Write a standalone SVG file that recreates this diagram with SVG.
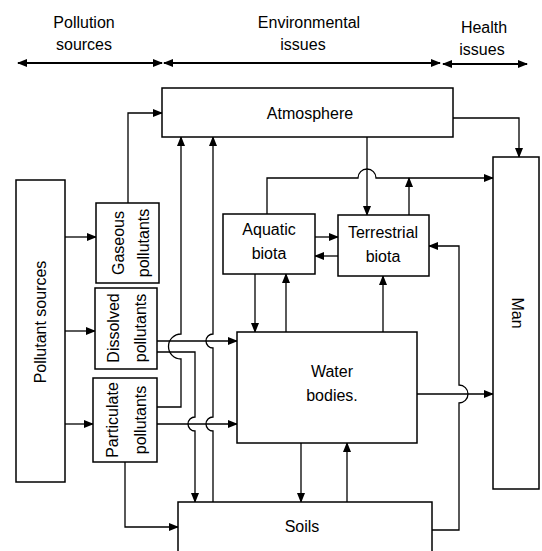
<svg xmlns="http://www.w3.org/2000/svg" width="542" height="551" viewBox="0 0 542 551">
<style>
.box{fill:#fff;stroke:#000;stroke-width:1.5}
.c{fill:none;stroke:#000;stroke-width:1.3}
.t{font-family:"Liberation Sans",Arial,sans-serif;font-size:16px;fill:#000;text-anchor:middle}
.h{stroke-width:1.8}
</style>
<defs>
<marker id="a" markerUnits="userSpaceOnUse" markerWidth="10" markerHeight="8" refX="9" refY="4" orient="auto-start-reverse">
<path d="M0,0 L10,4 L0,8 z" fill="#000"/>
</marker>
</defs>
<rect width="542" height="551" fill="#fff"/>
<g id="header">
<text class="t" x="84" y="28">Pollution</text>
<text class="t" x="84" y="50">sources</text>
<text class="t" x="309" y="28">Environmental</text>
<text class="t" x="303" y="50">issues</text>
<text class="t" x="484" y="33">Health</text>
<text class="t" x="482" y="55">issues</text>
<path class="c h" d="M18,63 H162" marker-start="url(#a)" marker-end="url(#a)"/>
<path class="c h" d="M164,63 H440" marker-start="url(#a)" marker-end="url(#a)"/>
<path class="c h" d="M443,64 H527" marker-start="url(#a)" marker-end="url(#a)"/>
</g>
<g id="connectors">
<path class="c" d="M65,237 H96" marker-end="url(#a)"/>
<path class="c" d="M65,331 H95" marker-end="url(#a)"/>
<path class="c" d="M65,424 H93" marker-end="url(#a)"/>
<path class="c" d="M128,203 V113 H162" marker-end="url(#a)"/>
<path class="c" d="M157,341 H237" marker-end="url(#a)"/>
<path class="c" d="M157,352 H195 V417 A7,7 0 0 0 195,431 V502" marker-end="url(#a)"/>
<path class="c" d="M157,407 H181 V359 A12.5,12.5 0 0 1 181,334 V137" marker-end="url(#a)"/>
<path class="c" d="M213,502 V431 A7,7 0 0 1 213,417 V348 A7,7 0 0 1 213,334 V137" marker-end="url(#a)"/>
<path class="c" d="M157,424 H237" marker-end="url(#a)"/>
<path class="c" d="M125,462 V527 H178" marker-end="url(#a)"/>
<path class="c" d="M453,118 H519 V157" marker-end="url(#a)"/>
<path class="c" d="M367,137 V215" marker-end="url(#a)"/>
<path class="c" d="M267,214 V178 H358 A9,9 0 0 1 376,178 H493" marker-end="url(#a)"/>
<path class="c" d="M409,215 V178" marker-end="url(#a)"/>
<path class="c" d="M315,237 H338" marker-end="url(#a)"/>
<path class="c" d="M338,256 H315" marker-end="url(#a)"/>
<path class="c" d="M255,274 V332" marker-end="url(#a)"/>
<path class="c" d="M286,332 V274" marker-end="url(#a)"/>
<path class="c" d="M383,332 V276" marker-end="url(#a)"/>
<path class="c" d="M301,443 V502" marker-end="url(#a)"/>
<path class="c" d="M347,502 V443" marker-end="url(#a)"/>
<path class="c" d="M417,394 H493" marker-end="url(#a)"/>
<path class="c" d="M432,530 H459 V403 A9,9 0 0 0 459,385 V246 H429" marker-end="url(#a)"/>
</g>
<g id="atmosphere">
<rect class="box" x="162" y="88" width="291" height="49"/>
<text class="t" x="310" y="119">Atmosphere</text>
</g>
<g id="man">
<rect class="box" x="493" y="157" width="46" height="332"/>
<text class="t" transform="translate(511.5,313) rotate(90)">Man</text>
</g>
<g id="aquatic-biota">
<rect class="box" x="223" y="214" width="92" height="60"/>
<text class="t" x="269" y="235">Aquatic</text>
<text class="t" x="269" y="259">biota</text>
</g>
<g id="terrestrial-biota">
<rect class="box" x="338" y="215" width="91" height="61"/>
<text class="t" x="383" y="238">Terrestrial</text>
<text class="t" x="383" y="262">biota</text>
</g>
<g id="water-bodies">
<rect class="box" x="237" y="332" width="180" height="111"/>
<text class="t" x="332" y="377">Water</text>
<text class="t" x="332" y="401">bodies.</text>
</g>
<g id="soils">
<rect class="box" x="178" y="502" width="254" height="60"/>
<text class="t" x="302" y="532">Soils</text>
</g>
<g id="pollutant-sources">
<rect class="box" x="16" y="180" width="49" height="302"/>
<text class="t" transform="translate(45.5,322) rotate(-90)">Pollutant sources</text>
</g>
<g id="gaseous-pollutants">
<rect class="box" x="96" y="203" width="63" height="80"/>
<text class="t" transform="translate(123.5,243) rotate(-90)">Gaseous</text>
<text class="t" transform="translate(148.5,243) rotate(-90)">pollutants</text>
</g>
<g id="dissolved-pollutants">
<rect class="box" x="95" y="288" width="62" height="81"/>
<text class="t" transform="translate(118.5,328) rotate(-90)">Dissolved</text>
<text class="t" transform="translate(145.5,328) rotate(-90)">pollutants</text>
</g>
<g id="particulate-pollutants">
<rect class="box" x="93" y="378" width="64" height="84"/>
<text class="t" transform="translate(117.5,420) rotate(-90)">Particulate</text>
<text class="t" transform="translate(145.5,420) rotate(-90)">pollutants</text>
</g>
</svg>
